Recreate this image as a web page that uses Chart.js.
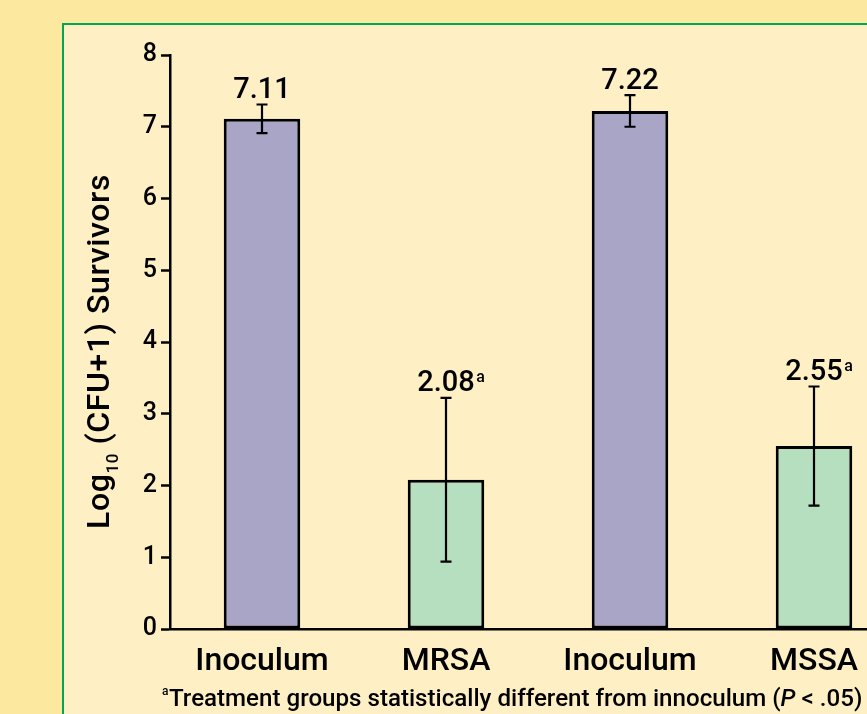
<!DOCTYPE html>
<html><head><meta charset="utf-8">
<script src="https://cdn.jsdelivr.net/npm/chart.js@4.4.1/dist/chart.umd.min.js"></script>
<style>
html,body{margin:0;padding:0;width:867px;height:714px;overflow:hidden;background:#fde89f;}
#panel{position:absolute;left:62px;top:23px;width:1000px;height:1000px;border:2px solid #00a651;background:#fef0c4;box-sizing:border-box;}
#wrap{position:absolute;left:0;top:0;width:940px;height:714px;}
</style></head><body>
<div id="panel"></div>
<div id="wrap"><canvas id="c"></canvas></div>
<script>
// ---- data ----
const categories = ['Inoculum', 'MRSA', 'Inoculum', 'MSSA'];
const means = [7.11, 2.08, 7.22, 2.55];
const errors = [0.20, 1.14, 0.22, 0.83];
const marks = ['', 'a', '', 'a'];
const yTicks = [0, 1, 2, 3, 4, 5, 6, 7, 8];
const barColors = ['#a8a5c6', '#b6dfc0', '#a8a5c6', '#b6dfc0'];
const yTitleParts = ['Log', '10', ' (CFU+1) Survivors'];
const footParts = ['a', 'Treatment groups statistically different from innoculum (', 'P', ' < .05)'];

const FF = 'Roboto, "Liberation Sans", Arial, sans-serif';
const W = '500';

const overlay = {
  id: 'overlay',
  afterDatasetsDraw(chart) {
    const ctx = chart.ctx, y = chart.scales.y, meta = chart.getDatasetMeta(0);
    ctx.save();
    ctx.strokeStyle = '#000'; ctx.fillStyle = '#000'; ctx.lineWidth = 2.2;
    meta.data.forEach((bar, i) => {
      const x = Math.round(bar.x);
      const yt = y.getPixelForValue(means[i] + errors[i]);
      const yb = y.getPixelForValue(means[i] - errors[i]);
      ctx.beginPath();
      ctx.moveTo(x, yt); ctx.lineTo(x, yb);
      ctx.moveTo(x - 5.5, yt); ctx.lineTo(x + 5.5, yt);
      ctx.moveTo(x - 5.5, yb); ctx.lineTo(x + 5.5, yb);
      ctx.stroke();
      const txt = means[i].toFixed(2);
      ctx.font = W + ' 29px ' + FF;
      ctx.textAlign = 'center'; ctx.textBaseline = 'alphabetic';
      const base = yt - 6.5;
      ctx.fillText(txt, x, base);
      if (marks[i]) {
        const w = ctx.measureText(txt).width;
        ctx.font = W + ' 16px ' + FF;
        ctx.textAlign = 'left';
        ctx.fillText(marks[i], x + w / 2 + 1.5, base - 9);
      }
    });
    ctx.restore();
  },
  afterDraw(chart) {
    const ctx = chart.ctx;
    ctx.save();
    ctx.fillStyle = '#000';
    ctx.textBaseline = 'alphabetic';
    ctx.textAlign = 'left';
    // y title, spread to the same length as in the source
    const fMain = W + ' 32px ' + FF, fSub = W + ' 17px ' + FF;
    const meas = () => {
      ctx.font = fMain; const a = ctx.measureText(yTitleParts[0]).width;
      ctx.font = fSub; const b = ctx.measureText(yTitleParts[1]).width;
      ctx.font = fMain; const c = ctx.measureText(yTitleParts[2]).width;
      return [a, b, c];
    };
    ctx.letterSpacing = '0px';
    let m = meas();
    const nChars = (yTitleParts.join('')).length;
    const ls = Math.max(0, (355 - (m[0] + m[1] + m[2])) / nChars);
    ctx.letterSpacing = ls + 'px';
    m = meas();
    const tot = m[0] + m[1] + m[2];
    ctx.translate(109, 351.5);
    ctx.rotate(-Math.PI / 2);
    let px = -tot / 2;
    ctx.font = fMain; ctx.fillText(yTitleParts[0], px, 0); px += m[0];
    ctx.font = fSub; ctx.fillText(yTitleParts[1], px, 9); px += m[1];
    ctx.font = fMain; ctx.fillText(yTitleParts[2], px, 0);
    ctx.setTransform(1, 0, 0, 1, 0, 0);
    ctx.letterSpacing = '0px';
    // footnote, sized to span the same width as in the source
    const mk = (s, it) => (it ? 'italic ' : '') + W + ' ' + s + 'px ' + FF;
    const measure = s => {
      let t = 0;
      ctx.font = mk(s, false); t += ctx.measureText(footParts[1]).width + ctx.measureText(footParts[3]).width;
      ctx.font = mk(s, true); t += ctx.measureText(footParts[2]).width;
      return t;
    };
    let fz = 24;
    fz = Math.min(26, fz * 694 / measure(fz));
    let fx = 162;
    ctx.font = W + ' 12px ' + FF; ctx.fillText(footParts[0], fx, 695); fx += ctx.measureText(footParts[0]).width + 0.5;
    ctx.font = mk(fz, false); ctx.fillText(footParts[1], fx, 706); fx += ctx.measureText(footParts[1]).width;
    ctx.font = mk(fz, true); ctx.fillText(footParts[2], fx, 706); fx += ctx.measureText(footParts[2]).width;
    ctx.font = mk(fz, false); ctx.fillText(footParts[3], fx, 706);
    ctx.restore();
  }
};

new Chart(document.getElementById('c'), {
  type: 'bar',
  data: {
    labels: categories,
    datasets: [{
      data: means,
      backgroundColor: barColors,
      borderColor: '#000',
      borderWidth: 3,
      borderSkipped: false,
      categoryPercentage: 1,
      barPercentage: 0.416
    }]
  },
  options: {
    responsive: true,
    maintainAspectRatio: false,
    animation: false,
    layout: { padding: { left: 0, top: 55, right: 34, bottom: 35 } },
    plugins: { legend: { display: false }, tooltip: { enabled: false } },
    scales: {
      x: {
        grid: { display: false },
        border: { display: true, color: '#000', width: 2.5 },
        ticks: { color: '#000', font: { family: FF, size: 32, weight: W }, padding: 6, maxRotation: 0 },
        afterFit(s) { s.height = 50; }
      },
      y: {
        min: 0, max: 8,
        afterBuildTicks(s) { s.ticks = yTicks.map(v => ({ value: v })); },
        grid: { drawOnChartArea: false, drawTicks: true, tickLength: 9, tickColor: '#000', tickWidth: 2.5 },
        border: { display: true, color: '#000', width: 2.5 },
        ticks: { color: '#000', font: { family: FF, size: 25, weight: W }, padding: 4 },
        afterFit(s) { s.width = 170; }
      }
    }
  },
  plugins: [overlay]
});
</script>
</body></html>
